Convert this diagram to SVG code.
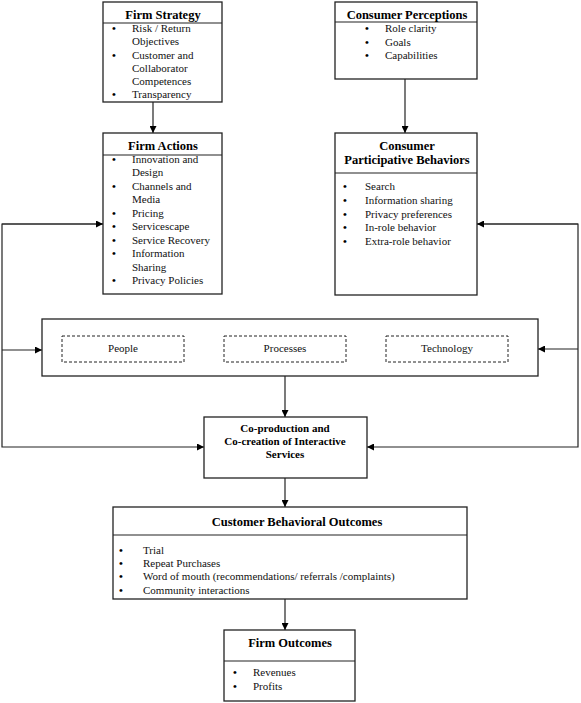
<svg xmlns="http://www.w3.org/2000/svg" width="581" height="703" viewBox="0 0 581 703">
<style>
.box{fill:#fff;stroke:#222;stroke-width:1.3}
.div{stroke:#222;stroke-width:1.2}
.dash{fill:none;stroke:#222;stroke-width:1;stroke-dasharray:3,2}
.t{font-family:"Liberation Serif","Times New Roman",serif;font-size:12.5px;font-weight:bold;fill:#000;text-anchor:middle}
.tb{font-family:"Liberation Serif","Times New Roman",serif;font-size:11px;font-weight:bold;fill:#000;text-anchor:middle}
.b{font-family:"Liberation Serif","Times New Roman",serif;font-size:11px;fill:#111}
.d{font-family:"Liberation Serif","Times New Roman",serif;font-size:11px;font-weight:bold;fill:#000}
.c{font-family:"Liberation Serif","Times New Roman",serif;font-size:11px;fill:#111;text-anchor:middle}
.conn{fill:none;stroke:#222;stroke-width:1.2}
</style>
<defs>
<marker id="ah" viewBox="0 0 10 10" refX="10" refY="5" markerWidth="7" markerHeight="7" markerUnits="userSpaceOnUse" orient="auto">
<path d="M0,0 L10,5 L0,10 z" fill="#000"/>
</marker>
</defs>

<g id="connectors">
<line class="conn" x1="153" y1="102" x2="153" y2="133" marker-end="url(#ah)"/>
<line class="conn" x1="405" y1="79" x2="405" y2="133" marker-end="url(#ah)"/>
<polyline class="conn" points="103,224 2,224 2,447 204,447" marker-end="url(#ah)"/>
<line class="conn" x1="2" y1="224" x2="103" y2="224" marker-end="url(#ah)"/>
<line class="conn" x1="2" y1="350" x2="42" y2="350" marker-end="url(#ah)"/>
<polyline class="conn" points="477,224 578,224 578,447 367,447" marker-end="url(#ah)"/>
<line class="conn" x1="578" y1="224" x2="477" y2="224" marker-end="url(#ah)"/>
<line class="conn" x1="578" y1="349" x2="538" y2="349" marker-end="url(#ah)"/>
<line class="conn" x1="285" y1="376" x2="285" y2="417" marker-end="url(#ah)"/>
<line class="conn" x1="285" y1="478" x2="285" y2="507" marker-end="url(#ah)"/>
<line class="conn" x1="285" y1="599" x2="285" y2="630" marker-end="url(#ah)"/>
</g>

<g id="firm-strategy">
<rect class="box" x="103" y="2" width="119" height="100"/>
<line class="div" x1="103" y1="23" x2="222" y2="23"/>
<text class="t" x="163" y="19">Firm Strategy</text>
<text class="d" x="112" y="32">•</text><text class="b" x="132" y="32">Risk / Return</text>
<text class="b" x="132" y="45">Objectives</text>
<text class="d" x="112" y="59">•</text><text class="b" x="132" y="59">Customer and</text>
<text class="b" x="132" y="72">Collaborator</text>
<text class="b" x="132" y="85">Competences</text>
<text class="d" x="112" y="98">•</text><text class="b" x="132" y="98">Transparency</text>
</g>

<g id="consumer-perceptions">
<rect class="box" x="335" y="2" width="142" height="77"/>
<line class="div" x1="335" y1="22" x2="477" y2="22"/>
<text class="t" x="407" y="19">Consumer Perceptions</text>
<text class="d" x="365" y="32">•</text><text class="b" x="385" y="32">Role clarity</text>
<text class="d" x="365" y="46">•</text><text class="b" x="385" y="46">Goals</text>
<text class="d" x="365" y="59">•</text><text class="b" x="385" y="59">Capabilities</text>
</g>

<g id="firm-actions">
<rect class="box" x="103" y="133" width="119" height="161"/>
<line class="div" x1="103" y1="155" x2="222" y2="155"/>
<text class="t" x="163" y="150">Firm Actions</text>
<text class="d" x="112" y="163">•</text><text class="b" x="132" y="163">Innovation and</text>
<text class="b" x="132" y="176">Design</text>
<text class="d" x="112" y="190">•</text><text class="b" x="132" y="190">Channels and</text>
<text class="b" x="132" y="203">Media</text>
<text class="d" x="112" y="217">•</text><text class="b" x="132" y="217">Pricing</text>
<text class="d" x="112" y="230">•</text><text class="b" x="132" y="230">Servicescape</text>
<text class="d" x="112" y="244">•</text><text class="b" x="132" y="244">Service Recovery</text>
<text class="d" x="112" y="257">•</text><text class="b" x="132" y="257">Information</text>
<text class="b" x="132" y="271">Sharing</text>
<text class="d" x="112" y="284">•</text><text class="b" x="132" y="284">Privacy Policies</text>
</g>

<g id="consumer-participative-behaviors">
<rect class="box" x="335" y="133" width="142" height="162"/>
<line class="div" x1="335" y1="173" x2="477" y2="173"/>
<text class="t" x="407" y="150">Consumer</text>
<text class="t" x="407" y="164">Participative Behaviors</text>
<text class="d" x="343" y="190">•</text><text class="b" x="365" y="190">Search</text>
<text class="d" x="343" y="204">•</text><text class="b" x="365" y="204">Information sharing</text>
<text class="d" x="343" y="218">•</text><text class="b" x="365" y="218">Privacy preferences</text>
<text class="d" x="343" y="231">•</text><text class="b" x="365" y="231">In-role behavior</text>
<text class="d" x="343" y="245">•</text><text class="b" x="365" y="245">Extra-role behavior</text>
</g>

<g id="resources">
<rect class="box" x="42" y="319" width="496" height="57"/>
<rect class="dash" x="62" y="336" width="122" height="26"/>
<text class="c" x="123" y="352">People</text>
<rect class="dash" x="224" y="336" width="122" height="26"/>
<text class="c" x="285" y="352">Processes</text>
<rect class="dash" x="386" y="336" width="122" height="26"/>
<text class="c" x="447" y="352">Technology</text>
</g>

<g id="co-production">
<rect class="box" x="204" y="417" width="163" height="61"/>
<text class="tb" x="285" y="432">Co-production and</text>
<text class="tb" x="285" y="445">Co-creation of Interactive</text>
<text class="tb" x="285" y="458">Services</text>
</g>

<g id="customer-behavioral-outcomes">
<rect class="box" x="113" y="507" width="354" height="92"/>
<line class="div" x1="113" y1="535" x2="467" y2="535"/>
<text class="t" x="297" y="526">Customer Behavioral Outcomes</text>
<text class="d" x="119" y="554">•</text><text class="b" x="143" y="554">Trial</text>
<text class="d" x="119" y="567">•</text><text class="b" x="143" y="567">Repeat Purchases</text>
<text class="d" x="119" y="580">•</text><text class="b" x="143" y="580">Word of mouth (recommendations/ referrals /complaints)</text>
<text class="d" x="119" y="594">•</text><text class="b" x="143" y="594">Community interactions</text>
</g>

<g id="firm-outcomes">
<rect class="box" x="224" y="630" width="131" height="71"/>
<line class="div" x1="224" y1="661" x2="355" y2="661"/>
<text class="t" x="290" y="647">Firm Outcomes</text>
<text class="d" x="233" y="676">•</text><text class="b" x="253" y="676">Revenues</text>
<text class="d" x="233" y="690">•</text><text class="b" x="253" y="690">Profits</text>
</g>
</svg>
